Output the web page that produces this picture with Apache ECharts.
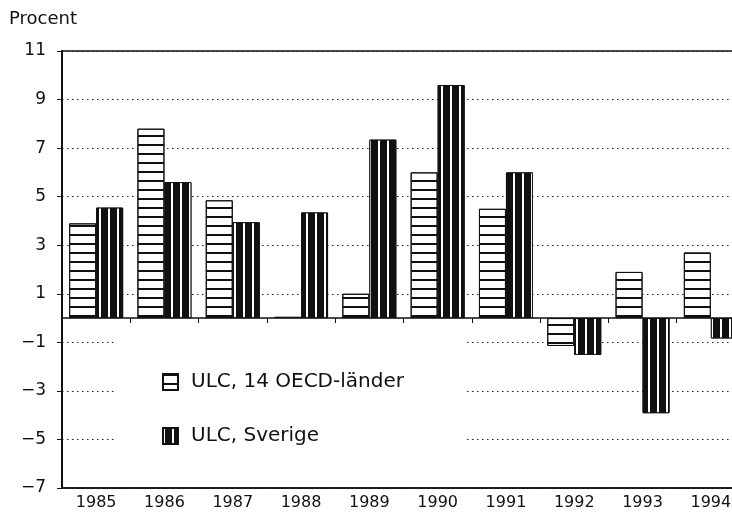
<!DOCTYPE html>
<html>
<head>
<meta charset="utf-8">
<script src="https://cdn.jsdelivr.net/npm/echarts@6/dist/echarts.min.js"></script>
<style>html,body{margin:0;padding:0;background:#fff;overflow:hidden;width:732px;height:521px;}#c{width:760px;height:521px;}</style>
</head>
<body>
<div id="c"></div>
<script>
const years = ['1985','1986','1987','1988','1989','1990','1991','1992','1993','1994'];
const oecd = [3.9, 7.8, 4.85, 0.05, 1.0, 6.0, 4.5, -1.15, 1.9, 2.7];
const sverige = [4.55, 5.6, 3.95, 4.35, 7.35, 9.6, 6.0, -1.52, -3.92, -0.84];
const oecdName = 'ULC, 14 OECD-länder';
const sverigeName = 'ULC, Sverige';
const yTicks = { min: -7, max: 11, interval: 2 };

const FONT = 'DejaVu Sans';
const chart = echarts.init(document.getElementById('c'), null, { renderer: 'canvas' });
chart.setOption({
  animation: false,
  backgroundColor: '#fff',
  title: {
    text: 'Procent', left: 4, top: 5,
    textStyle: { fontFamily: FONT, fontSize: 18, fontWeight: 'normal', color: '#111' }
  },
  grid: {
    left: 62, top: 51, bottom: 33, right: 15,
    show: true, borderColor: '#111', borderWidth: 1.5, backgroundColor: 'transparent'
  },
  legend: {
    orient: 'vertical', left: 115, top: 328,
    padding: [44, 60, 22, 47],
    backgroundColor: '#fff',
    icon: 'rect',
    itemWidth: 15, itemHeight: 16, itemGap: 34,
    textStyle: { fontFamily: FONT, fontSize: 20, lineHeight: 16, color: '#111', padding: [0, 0, 0, 8] },
    data: [oecdName, sverigeName]
  },
  xAxis: [
    {
      type: 'category', data: years, position: 'bottom',
      axisLine: { onZero: false, lineStyle: { color: '#111', width: 1.5 } },
      axisTick: { show: false },
      axisLabel: { fontFamily: FONT, fontSize: 16, color: '#111', margin: 7 },
      splitLine: { show: false }
    },
    {
      type: 'category', data: years, position: 'bottom',
      axisLine: { onZero: true, lineStyle: { color: '#111', width: 1.5 } },
      axisTick: { show: true, length: 5, lineStyle: { color: '#111', width: 1 } },
      axisLabel: { show: false },
      splitLine: { show: false }
    }
  ],
  yAxis: {
    type: 'value', min: yTicks.min, max: yTicks.max, interval: yTicks.interval,
    axisLine: { show: true, lineStyle: { color: '#111', width: 2 } },
    axisTick: { show: true, length: 5, lineStyle: { color: '#111' } },
    axisLabel: {
      fontFamily: FONT, fontSize: 17, color: '#111', margin: 16,
      formatter: v => String(v).replace('-', '\u2212')
    },
    splitLine: { show: true, lineStyle: { color: '#222', width: 1.2, type: [1.5, 3.5] } }
  },
  series: [
    {
      name: oecdName, type: 'bar', xAxisIndex: 0, data: oecd,
      barWidth: 27, barGap: '0%',
      itemStyle: {
        color: '#fff', borderColor: '#111', borderWidth: 1,
        decal: { symbol: 'rect', symbolSize: 1, color: '#111', dashArrayX: [10, 0], dashArrayY: [1.3, 6.2] }
      }
    },
    {
      name: sverigeName, type: 'bar', xAxisIndex: 0, data: sverige,
      barWidth: 27, barGap: '0%',
      itemStyle: {
        color: '#111', borderColor: '#111', borderWidth: 1,
        decal: { symbol: 'rect', symbolSize: 1, color: '#fff', dashArrayX: [1.2, 7], dashArrayY: [10, 0] }
      }
    }
  ]
});
</script>
</body>
</html>
